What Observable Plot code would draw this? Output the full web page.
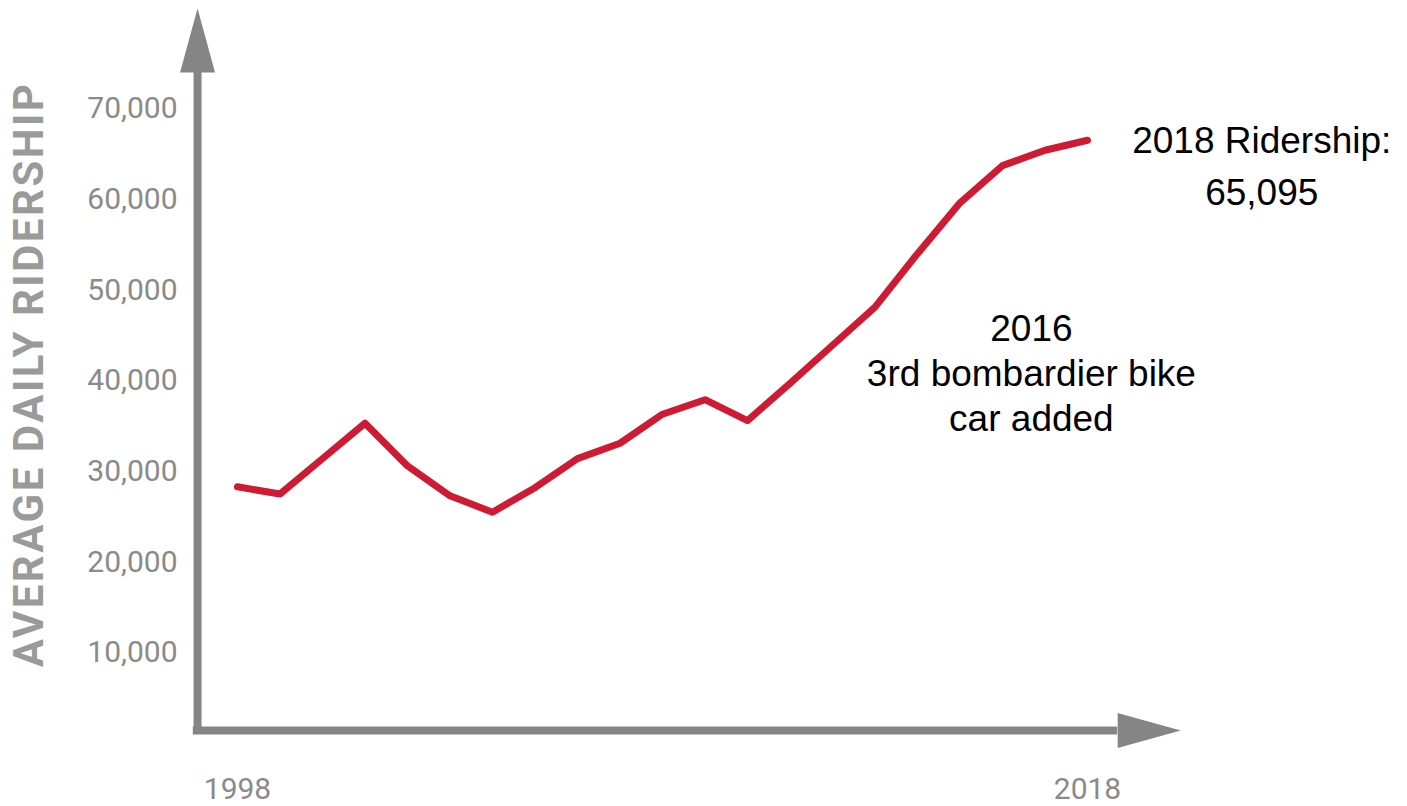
<!DOCTYPE html>
<html><head><meta charset="utf-8">
<script src="https://cdn.jsdelivr.net/npm/d3@7"></script>
<script src="https://cdn.jsdelivr.net/npm/@observablehq/plot@0.6"></script>
<style>
html,body{margin:0;padding:0;background:#fff;}
.ytitle text{letter-spacing:2.5px;}
</style></head><body><div id="chart"></div>
<script>
// ---- data ----
const years = [1998,1999,2000,2001,2002,2003,2004,2005,2006,2007,2008,2009,2010,2011,2012,2013,2014,2015,2016,2017,2018];
const ridership = [28300,27500,31400,35300,30600,27300,25500,28200,31400,33100,36300,37900,35600,39700,43900,48100,54000,59600,63700,65400,66500];
const yTicks = [10000,20000,30000,40000,50000,60000,70000];
const xTicks = [1998,2018];
const yTitle = "AVERAGE DAILY RIDERSHIP";
const noteTexts = ["2018 Ridership:\n65,095", "2016\n3rd bombardier bike\ncar added"];
const noteYears = [2022.1, 2016.68];
const noteValues = [69170, 47890];
const noteLineHeights = [1.4, 1.22];

// axis decoration anchors (data units)
const axisX = 1997.06, axisY = 1430, axisXStart = 1996.96, xArrowBase = 2018.71;
const axisYStart = 990, yArrowBase = 73970;

const gray = "#858585";
const rows = years.map((yr, i) => ({year: yr, value: ridership[i]}));
const notes = noteTexts.map((t, i) => ({text: t, year: noteYears[i], value: noteValues[i], lh: noteLineHeights[i]}));

const arrowUp = {draw(ctx){ ctx.moveTo(-17.5,0); ctx.lineTo(17.5,0); ctx.lineTo(0,-64); ctx.closePath(); }};
const arrowRight = {draw(ctx){ ctx.moveTo(0,-17.5); ctx.lineTo(0,17.5); ctx.lineTo(63,0); ctx.closePath(); }};

const plot = Plot.plot({
  width: 1407,
  height: 806,
  marginLeft: 237,
  marginRight: 320,
  marginTop: 108,
  marginBottom: 63,
  style: {fontFamily: "Roboto, sans-serif", background: "#fff", overflow: "visible"},
  x: {domain: [1998, 2018]},
  y: {domain: [0, 70000]},
  marks: [
    Plot.ruleX([axisX], {y1: axisYStart, y2: yArrowBase, stroke: gray, strokeWidth: 8}),
    Plot.ruleY([axisY], {x1: axisXStart, x2: xArrowBase, stroke: gray, strokeWidth: 8}),
    Plot.dot([{x: axisX, y: yArrowBase}], {x: "x", y: "y", symbol: arrowUp, fill: gray, stroke: null}),
    Plot.dot([{x: xArrowBase, y: axisY}], {x: "x", y: "y", symbol: arrowRight, fill: gray, stroke: null}),
    Plot.axisY({ticks: yTicks, tickSize: 0, tickPadding: 60, tickFormat: d3.format(","), fontSize: 30, fill: "#8a8a8a", label: null}),
    Plot.axisX({ticks: xTicks, tickSize: 0, tickPadding: 34, tickFormat: d => String(d), fontSize: 30, fill: "#8a8a8a", label: null}),
    Plot.text([yTitle], {frameAnchor: "left", textAnchor: "middle", dx: -208, dy: -51.5, rotate: -90, fontSize: 42, fontWeight: "bold", fill: "#9a9a9a", className: "ytitle"}),
    Plot.line(rows, {x: "year", y: "value", stroke: "#cf1a33", strokeWidth: 7, strokeLinejoin: "round", strokeLinecap: "round"}),
    Plot.text([notes[0]], {x: "year", y: "value", text: "text", lineAnchor: "top", lineHeight: notes[0].lh, textAnchor: "middle", fontSize: 37, fontFamily: "'Liberation Sans', Arial, sans-serif", fill: "#000"}),
    Plot.text([notes[1]], {x: "year", y: "value", text: "text", lineAnchor: "top", lineHeight: notes[1].lh, textAnchor: "middle", fontSize: 37, fontFamily: "'Liberation Sans', Arial, sans-serif", fill: "#000"})
  ]
});
document.getElementById("chart").appendChild(plot);
</script></body></html>
